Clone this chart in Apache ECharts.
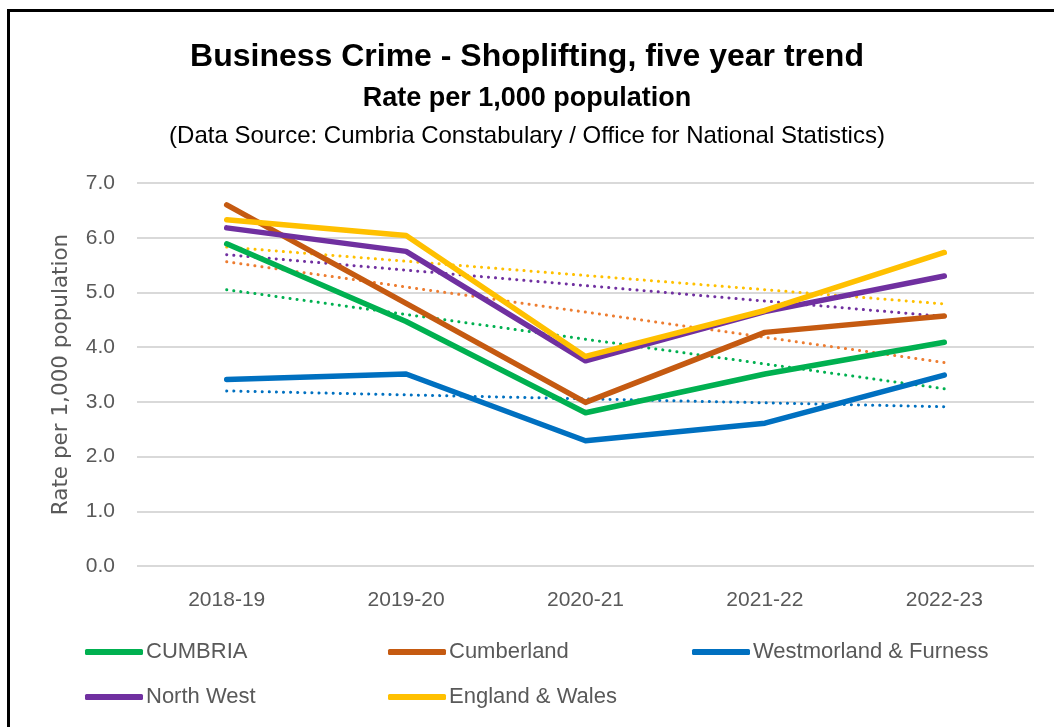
<!DOCTYPE html>
<html>
<head>
<meta charset="utf-8">
<script src="https://cdn.jsdelivr.net/npm/echarts@6/dist/echarts.min.js"></script>
<style>
html,body{margin:0;padding:0;background:#fff;}
#chart{width:1054px;height:727px;}
</style>
</head>
<body>
<div id="chart"></div>
<script>
const categories = ['2018-19', '2019-20', '2020-21', '2021-22', '2022-23'];
const yTicks = [0, 1, 2, 3, 4, 5, 6, 7];

const cumbria      = [5.89, 4.47, 2.80, 3.51, 4.09];
const cumberland   = [6.60, 4.80, 2.99, 4.27, 4.57];
const westmorland  = [3.41, 3.51, 2.29, 2.61, 3.49];
const northWest    = [6.18, 5.75, 3.75, 4.65, 5.30];
const englandWales = [6.33, 6.04, 3.83, 4.67, 5.73];

// trendline endpoints (first year, last year)
const cumbriaTrend      = [5.05, 3.24];
const cumberlandTrend   = [5.56, 3.72];
const westmorlandTrend  = [3.20, 2.91];
const northWestTrend    = [5.69, 4.56];
const englandWalesTrend = [5.83, 4.79];

const seriesNames = ['CUMBRIA', 'Cumberland', 'Westmorland & Furness', 'North West', 'England & Wales'];
const lineColors  = ['#00B050', '#C55A11', '#0070C0', '#7030A0', '#FFC000'];
const trendColors = ['#00B050', '#ED7D31', '#0070C0', '#7030A0', '#FFC000'];

const mainData  = [cumbria, cumberland, westmorland, northWest, englandWales];
const trendData = [cumbriaTrend, cumberlandTrend, westmorlandTrend, northWestTrend, englandWalesTrend];

function trendSeriesData(ends) {
  return categories.map((c, i) => i === 0 ? ends[0] : (i === categories.length - 1 ? ends[1] : '-'));
}

const series = [];
trendData.forEach((t, i) => {
  series.push({
    name: seriesNames[i] + ' trend',
    type: 'line',
    data: trendSeriesData(t),
    connectNulls: true,
    showSymbol: false,
    symbol: 'none',
    z: 2,
    lineStyle: { color: trendColors[i], width: 3, type: [0.1, 7], cap: 'round' },
    itemStyle: { color: trendColors[i] },
    silent: true
  });
});
mainData.forEach((d, i) => {
  series.push({
    name: seriesNames[i],
    type: 'line',
    data: d,
    showSymbol: false,
    symbol: 'none',
    z: 3 + i,
    lineStyle: { color: lineColors[i], width: 5.5, cap: 'round', join: 'round' },
    itemStyle: { color: lineColors[i] }
  });
});

const legendPos = [
  { left: 85, top: 641 }, { left: 388, top: 641 }, { left: 692, top: 641 },
  { left: 85, top: 686 }, { left: 388, top: 686 }
];
const legends = seriesNames.map((n, i) => ({
  data: [n],
  left: legendPos[i].left,
  top: legendPos[i].top,
  orient: 'horizontal',
  icon: 'roundRect',
  itemWidth: 58,
  itemHeight: 6,
  padding: 0,
  selectedMode: false,
  textStyle: { fontFamily: 'Liberation Sans', fontSize: 22, color: '#595959', lineHeight: 22, padding: [0, 0, 0, -2] }
}));

const chart = echarts.init(document.getElementById('chart'), null, { renderer: 'canvas' });
chart.setOption({
  animation: false,
  backgroundColor: '#fff',
  title: [
    { text: 'Business Crime - Shoplifting, five year trend', left: 'center', top: 36,
      textStyle: { fontFamily: 'Liberation Sans', fontWeight: 'bold', fontSize: 32, color: '#000' } },
    { text: 'Rate per 1,000 population', left: 'center', top: 80,
      textStyle: { fontFamily: 'Liberation Sans', fontWeight: 'bold', fontSize: 27, color: '#000' } },
    { text: '(Data Source: Cumbria Constabulary / Office for National Statistics)', left: 'center', top: 119,
      textStyle: { fontFamily: 'Liberation Sans', fontWeight: 'normal', fontSize: 24, color: '#000' } }
  ],
  legend: legends,
  grid: { left: 137, right: 20, top: 183, bottom: 161, containLabel: false },
  xAxis: {
    type: 'category',
    data: categories,
    boundaryGap: true,
    axisLine: { show: false },
    axisTick: { show: false },
    axisLabel: { fontFamily: 'Liberation Sans', fontSize: 21, color: '#595959', margin: 24 }
  },
  yAxis: {
    type: 'value',
    min: yTicks[0],
    max: yTicks[yTicks.length - 1],
    interval: 1,
    name: 'Rate per 1,000 population',
    nameLocation: 'middle',
    nameGap: 65,
    nameRotate: 90,
    nameTextStyle: { fontFamily: 'DejaVu Sans', fontSize: 21.5, color: '#595959' },
    axisLine: { show: false },
    axisTick: { show: false },
    axisLabel: { fontFamily: 'Liberation Sans', fontSize: 21, color: '#595959', margin: 22,
      formatter: v => v.toFixed(1) },
    splitLine: { lineStyle: { color: '#D9D9D9', width: 2 } }
  },
  series: series,
  graphic: [{
    type: 'rect',
    shape: { x: 8.5, y: 10.5, width: 2000, height: 2000 },
    style: { fill: 'none', stroke: '#000', lineWidth: 3 },
    silent: true,
    z: 100
  }]
});
</script>
</body>
</html>
